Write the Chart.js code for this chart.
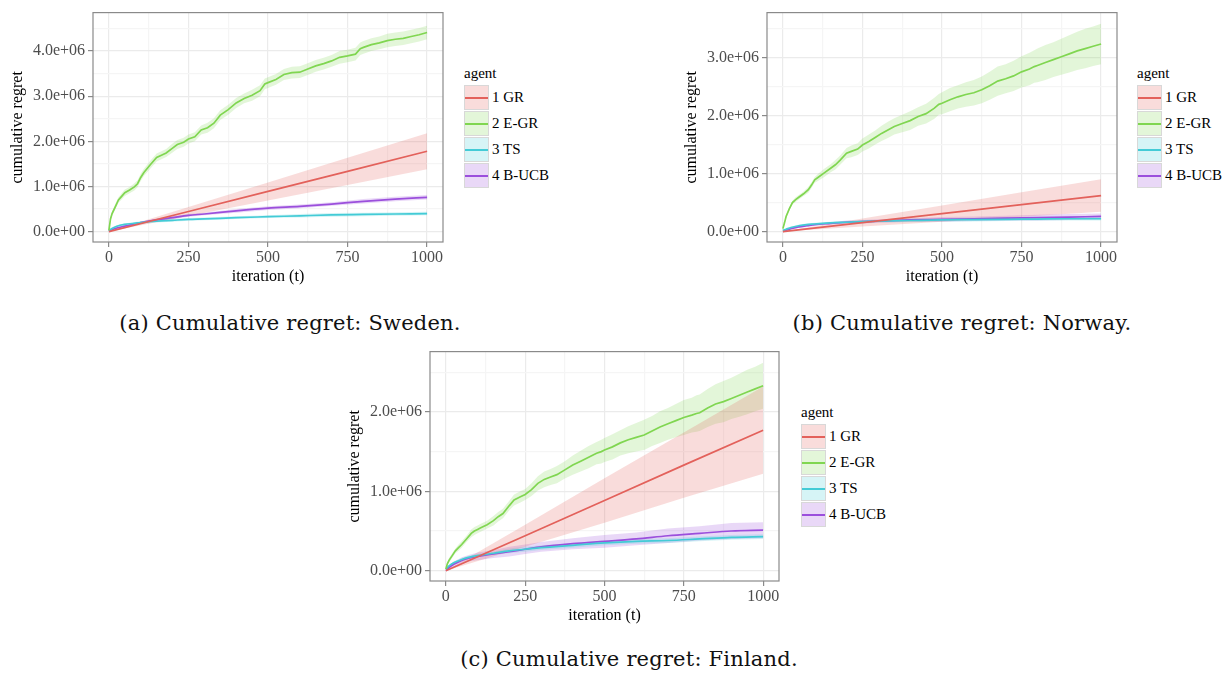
<!DOCTYPE html>
<html lang="en">
  <head>
    <meta charset="UTF-8" />
    <title>Cumulative regret</title>
    <script src="https://cdn.jsdelivr.net/npm/chart.js"></script>
    <style>
      body {
        margin: 0;
        background: #fff;
        width: 1229px;
        height: 675px;
        position: relative;
        overflow: hidden;
        font-family: "Liberation Serif", serif;
      }
      canvas {
        position: absolute;
      }
      .legend {
        position: absolute;
        font-size: 15px;
        color: #000;
      }
      .legend .title {
        height: 21px;
        line-height: 21px;
      }
      .legend .row {
        height: 26px;
        display: flex;
        align-items: center;
      }
      .legend .key {
        position: relative;
        width: 25px;
        height: 25px;
        box-sizing: border-box;
        border: 1px solid #d8d8d8;
        margin-right: 3px;
      }
      .legend .key span {
        position: absolute;
        left: 0;
        right: 0;
        top: 11px;
        height: 2px;
      }
      .caption {
        position: absolute;
        font-family: "DejaVu Serif", serif;
        font-size: 21px;
        letter-spacing: 0.2px;
        color: #111;
        white-space: nowrap;
        transform: translate(-50%, -50%);
      }
    </style>
  </head>
  <body>
    <canvas id="sweden" width="450" height="290" style="left:0px;top:0px"></canvas>
    <canvas id="norway" width="450" height="290" style="left:674px;top:0px"></canvas>
    <canvas id="finland" width="449" height="290" style="left:337px;top:339px"></canvas>

    <div class="legend" id="legA" style="left:464px;top:63px"></div>
    <div class="legend" id="legB" style="left:1137px;top:63px"></div>
    <div class="legend" id="legC" style="left:801px;top:402px"></div>

    <div class="caption" style="left:290px;top:323px">(a) Cumulative regret: Sweden.</div>
    <div class="caption" style="left:962px;top:323px">(b) Cumulative regret: Norway.</div>
    <div class="caption" style="left:629px;top:659px">(c) Cumulative regret: Finland.</div>

    <script>
      // all regret values are in millions (1.0 = 1.0e+06)
      const agents = ["1 GR", "2 E-GR", "3 TS", "4 B-UCB"];
      const lineColors = ["#e3615b", "#80d651", "#43cbd6", "#9b4fdc"];
      const bandColors = [
        "rgba(227,97,91,0.22)",
        "rgba(128,214,81,0.22)",
        "rgba(67,203,214,0.22)",
        "rgba(155,79,220,0.22)",
      ];
      const serif = "'Liberation Serif', 'Times New Roman', serif";

      const xTicks = [0, 125, 250, 375, 500, 625, 750, 875, 1000];

      // iteration grids
      const tRed = [0, 250, 500, 750, 1000];
      const tGreen = [
        0, 5, 10, 20, 30, 40, 50, 65, 80, 90, 100, 110, 130, 150, 165, 180, 200,
        215, 235, 250, 270, 290, 310, 330, 350, 375, 400, 425, 450, 475, 490, 500,
        525, 550, 575, 600, 625, 650, 675, 700, 725, 750, 775, 790, 800, 825, 850,
        875, 900, 925, 950, 975, 1000,
      ];
      const tSmooth = [0, 10, 25, 50, 75, 100, 150, 200, 250, 300, 400, 500, 600, 700, 800, 900, 1000];

      // (a) Sweden
      const swedenRed = [0, 0.445, 0.89, 1.335, 1.78];
      const swedenRedHw = [0, 0.1, 0.2, 0.3, 0.4];
      const swedenGreen = [
        0.03, 0.28, 0.4, 0.55, 0.7, 0.78, 0.86, 0.92, 0.99, 1.06,
        1.2, 1.31, 1.48, 1.64, 1.69, 1.74, 1.85, 1.93, 1.98, 2.05,
        2.1, 2.25, 2.3, 2.4, 2.58, 2.7, 2.85, 2.95, 3.02, 3.12,
        3.27, 3.3, 3.37, 3.48, 3.52, 3.53, 3.6, 3.67, 3.72, 3.78,
        3.86, 3.89, 3.93, 4.05, 4.08, 4.14, 4.18, 4.23, 4.26, 4.28,
        4.32, 4.36, 4.41,
      ];
      const swedenGreenHw = [
        0.02, 0.04, 0.05, 0.06, 0.06, 0.07, 0.07, 0.07, 0.08, 0.08,
        0.08, 0.08, 0.09, 0.09, 0.09, 0.09, 0.1, 0.1, 0.1, 0.1,
        0.1, 0.1, 0.11, 0.11, 0.11, 0.11, 0.11, 0.11, 0.12, 0.12,
        0.12, 0.12, 0.12, 0.12, 0.13, 0.13, 0.13, 0.13, 0.13, 0.13,
        0.14, 0.14, 0.14, 0.14, 0.14, 0.14, 0.14, 0.15, 0.15, 0.15,
        0.15, 0.15, 0.15,
      ];
      const swedenTs = [0.02, 0.07, 0.12, 0.16, 0.18, 0.2, 0.23, 0.25, 0.27, 0.28, 0.31, 0.33, 0.35, 0.37, 0.38, 0.39, 0.4];
      const swedenTsHw = [0.01, 0.02, 0.02, 0.02, 0.03, 0.03, 0.03, 0.03, 0.03, 0.03, 0.03, 0.03, 0.04, 0.04, 0.04, 0.04, 0.04];
      const swedenUcb = [0, 0.04, 0.08, 0.12, 0.16, 0.2, 0.26, 0.31, 0.36, 0.39, 0.46, 0.52, 0.56, 0.61, 0.67, 0.72, 0.76];
      const swedenUcbHw = [0.01, 0.01, 0.02, 0.02, 0.02, 0.02, 0.03, 0.03, 0.03, 0.03, 0.04, 0.04, 0.04, 0.04, 0.05, 0.05, 0.05];

      // (b) Norway
      const norwayRed = [0, 0.155, 0.31, 0.465, 0.62];
      const norwayRedHw = [0, 0.07, 0.14, 0.21, 0.28];
      const norwayGreen = [
        0.05, 0.15, 0.26, 0.39, 0.5, 0.55, 0.59, 0.65, 0.72, 0.8,
        0.89, 0.93, 1.01, 1.09, 1.15, 1.23, 1.35, 1.38, 1.42, 1.49,
        1.55, 1.62, 1.69, 1.75, 1.81, 1.86, 1.91, 1.98, 2.03, 2.12,
        2.19, 2.21, 2.27, 2.32, 2.36, 2.39, 2.44, 2.51, 2.59, 2.63,
        2.68, 2.75, 2.8, 2.84, 2.86, 2.91, 2.96, 3.01, 3.06, 3.11,
        3.15, 3.19, 3.23,
      ];
      const norwayGreenHw = [
        0.02, 0.02, 0.03, 0.03, 0.03, 0.04, 0.04, 0.04, 0.05, 0.05,
        0.05, 0.06, 0.07, 0.07, 0.08, 0.08, 0.09, 0.1, 0.1, 0.11,
        0.12, 0.12, 0.13, 0.14, 0.14, 0.15, 0.16, 0.16, 0.17, 0.18,
        0.18, 0.19, 0.2, 0.2, 0.21, 0.22, 0.23, 0.24, 0.25, 0.25,
        0.26, 0.27, 0.28, 0.28, 0.29, 0.3, 0.3, 0.31, 0.32, 0.33,
        0.34, 0.34, 0.35,
      ];
      const norwayTs = [0.02, 0.04, 0.07, 0.1, 0.12, 0.13, 0.15, 0.16, 0.17, 0.18, 0.19, 0.2, 0.205, 0.21, 0.215, 0.22, 0.22];
      const norwayTsHw = [0.01, 0.01, 0.01, 0.02, 0.02, 0.02, 0.02, 0.02, 0.02, 0.02, 0.03, 0.03, 0.03, 0.03, 0.03, 0.03, 0.03];
      const norwayUcb = [0, 0.02, 0.05, 0.08, 0.1, 0.12, 0.14, 0.16, 0.17, 0.18, 0.2, 0.21, 0.22, 0.23, 0.24, 0.25, 0.26];
      const norwayUcbHw = [0.01, 0.01, 0.01, 0.02, 0.02, 0.02, 0.02, 0.03, 0.03, 0.03, 0.03, 0.04, 0.04, 0.04, 0.05, 0.05, 0.05];

      // (c) Finland
      const finlandRed = [0, 0.44, 0.885, 1.33, 1.77];
      const finlandRedHw = [0, 0.14, 0.28, 0.41, 0.55];
      const finlandGreen = [
        0.02, 0.09, 0.13, 0.19, 0.25, 0.29, 0.33, 0.4, 0.47, 0.5,
        0.52, 0.54, 0.58, 0.63, 0.68, 0.72, 0.82, 0.89, 0.93, 0.96,
        1.02, 1.1, 1.15, 1.18, 1.21, 1.27, 1.33, 1.38, 1.43, 1.48,
        1.5, 1.52, 1.56, 1.61, 1.65, 1.68, 1.71, 1.76, 1.81, 1.85,
        1.89, 1.93, 1.96, 1.98, 1.99, 2.05, 2.1, 2.13, 2.17, 2.21,
        2.25, 2.29, 2.33,
      ];
      const finlandGreenHw = [
        0.02, 0.02, 0.03, 0.03, 0.03, 0.04, 0.04, 0.04, 0.05, 0.05,
        0.05, 0.05, 0.05, 0.06, 0.06, 0.06, 0.06, 0.07, 0.07, 0.07,
        0.08, 0.09, 0.1, 0.1, 0.11, 0.11, 0.12, 0.13, 0.14, 0.14,
        0.15, 0.15, 0.16, 0.16, 0.17, 0.18, 0.19, 0.19, 0.2, 0.2,
        0.21, 0.22, 0.22, 0.23, 0.23, 0.24, 0.25, 0.26, 0.26, 0.27,
        0.28, 0.28, 0.29,
      ];
      const finlandTs = [0.02, 0.06, 0.1, 0.14, 0.17, 0.19, 0.22, 0.25, 0.27, 0.29, 0.32, 0.35, 0.37, 0.38, 0.4, 0.42, 0.43];
      const finlandTsHw = [0.01, 0.01, 0.02, 0.02, 0.02, 0.02, 0.02, 0.03, 0.03, 0.03, 0.03, 0.03, 0.03, 0.03, 0.03, 0.03, 0.03];
      const finlandUcb = [0, 0.04, 0.08, 0.13, 0.16, 0.18, 0.21, 0.24, 0.27, 0.3, 0.34, 0.37, 0.4, 0.44, 0.47, 0.5, 0.51];
      const finlandUcbHw = [0.01, 0.02, 0.03, 0.04, 0.04, 0.05, 0.05, 0.06, 0.06, 0.06, 0.07, 0.08, 0.08, 0.09, 0.09, 0.1, 0.1];

      function fmtY(v) {
        if (v === 0) return "0.0e+00";
        return v.toFixed(1) + "e+06";
      }

      // ggplot style panel border on all four sides
      const panelBorder = {
        id: "panelBorder",
        afterDatasetsDraw(chart) {
          const a = chart.chartArea;
          const ctx = chart.ctx;
          ctx.save();
          ctx.strokeStyle = "#8a8a8a";
          ctx.lineWidth = 1.2;
          ctx.strokeRect(a.left, a.top, a.right - a.left, a.bottom - a.top);
          ctx.restore();
        },
      };

      function makePanel(id, series, yMin, yMax, yTicks) {
        const bands = [];
        const lines = [];
        series.forEach((s, k) => {
          const lo = s.t.map((t, i) => ({ x: t, y: s.mean[i] - s.hw[i] }));
          const hi = s.t.map((t, i) => ({ x: t, y: s.mean[i] + s.hw[i] }));
          bands.push({
            data: lo, borderWidth: 0, pointRadius: 0, fill: false, order: 2,
          });
          bands.push({
            data: hi, borderWidth: 0, pointRadius: 0, fill: "-1",
            backgroundColor: bandColors[k], order: 2,
          });
          lines.push({
            label: agents[k],
            data: s.t.map((t, i) => ({ x: t, y: s.mean[i] })),
            borderColor: lineColors[k],
            borderWidth: 1.7,
            pointRadius: 0,
            fill: false,
            cubicInterpolationMode: s.smooth ? "monotone" : "default",
            order: 1,
          });
        });

        new Chart(document.getElementById(id), {
          type: "line",
          data: { datasets: bands.concat(lines) },
          options: {
            responsive: false,
            animation: false,
            layout: { padding: { top: 10, right: 7, left: 0, bottom: 0 } },
            plugins: { legend: { display: false }, tooltip: { enabled: false } },
            scales: {
              x: {
                type: "linear",
                min: -50,
                max: 1050,
                afterBuildTicks: (scale) => {
                  scale.ticks = xTicks.map((v) => ({ value: v }));
                },
                afterFit: (scale) => {
                  scale.height = 48;
                },
                ticks: {
                  autoSkip: false,
                  maxRotation: 0,
                  padding: 1,
                  color: "#4d4d4d",
                  font: { family: serif, size: 16 },
                  callback: (v) => (v % 250 === 0 ? String(v) : ""),
                },
                grid: {
                  color: (c) => (c.tick && c.tick.value % 250 === 0 ? "#ebebeb" : "#f5f5f5"),
                  tickColor: (c) => (c.tick && c.tick.value % 250 === 0 ? "#8a8a8a" : "rgba(0,0,0,0)"),
                  tickLength: 5,
                  lineWidth: 1.2,
                },
                border: { display: false },
                title: {
                  display: true,
                  text: "iteration (t)",
                  color: "#000",
                  font: { family: serif, size: 16 },
                  padding: { top: 0, bottom: 4 },
                },
              },
              y: {
                type: "linear",
                min: yMin,
                max: yMax,
                afterBuildTicks: (scale) => {
                  scale.ticks = yTicks.map((v) => ({ value: v }));
                },
                afterFit: (scale) => {
                  scale.width = 93;
                },
                ticks: {
                  autoSkip: false,
                  padding: 3,
                  color: "#4d4d4d",
                  font: { family: serif, size: 16 },
                  callback: (v) => (Math.round(v * 2) % 2 === 0 ? fmtY(v) : ""),
                },
                grid: {
                  color: (c) => (c.tick && Math.round(c.tick.value * 2) % 2 === 0 ? "#ebebeb" : "#f5f5f5"),
                  tickColor: (c) => (c.tick && Math.round(c.tick.value * 2) % 2 === 0 ? "#8a8a8a" : "rgba(0,0,0,0)"),
                  tickLength: 5,
                  lineWidth: 1.2,
                },
                border: { display: false },
                title: {
                  display: true,
                  text: "cumulative regret",
                  color: "#000",
                  font: { family: serif, size: 16 },
                  padding: { top: 8, bottom: 0 },
                },
              },
            },
          },
          plugins: [panelBorder],
        });
      }

      function makeLegend(id) {
        const el = document.getElementById(id);
        let html = '<div class="title">agent</div>';
        agents.forEach((a, k) => {
          html +=
            '<div class="row"><div class="key" style="background:' + bandColors[k] +
            '"><span style="background:' + lineColors[k] + '"></span></div>' + a + "</div>";
        });
        el.innerHTML = html;
      }

      makePanel(
        "sweden",
        [
          { t: tRed, mean: swedenRed, hw: swedenRedHw },
          { t: tGreen, mean: swedenGreen, hw: swedenGreenHw },
          { t: tSmooth, mean: swedenTs, hw: swedenTsHw, smooth: true },
          { t: tSmooth, mean: swedenUcb, hw: swedenUcbHw, smooth: true },
        ],
        -0.23, 4.85, [0, 0.5, 1, 1.5, 2, 2.5, 3, 3.5, 4, 4.5]
      );
      makePanel(
        "norway",
        [
          { t: tRed, mean: norwayRed, hw: norwayRedHw },
          { t: tGreen, mean: norwayGreen, hw: norwayGreenHw },
          { t: tSmooth, mean: norwayTs, hw: norwayTsHw, smooth: true },
          { t: tSmooth, mean: norwayUcb, hw: norwayUcbHw, smooth: true },
        ],
        -0.18, 3.77, [0, 0.5, 1, 1.5, 2, 2.5, 3, 3.5]
      );
      makePanel(
        "finland",
        [
          { t: tRed, mean: finlandRed, hw: finlandRedHw },
          { t: tGreen, mean: finlandGreen, hw: finlandGreenHw },
          { t: tSmooth, mean: finlandTs, hw: finlandTsHw, smooth: true },
          { t: tSmooth, mean: finlandUcb, hw: finlandUcbHw, smooth: true },
        ],
        -0.13, 2.76, [0, 0.5, 1, 1.5, 2, 2.5]
      );

      makeLegend("legA");
      makeLegend("legB");
      makeLegend("legC");
    </script>
  </body>
</html>
